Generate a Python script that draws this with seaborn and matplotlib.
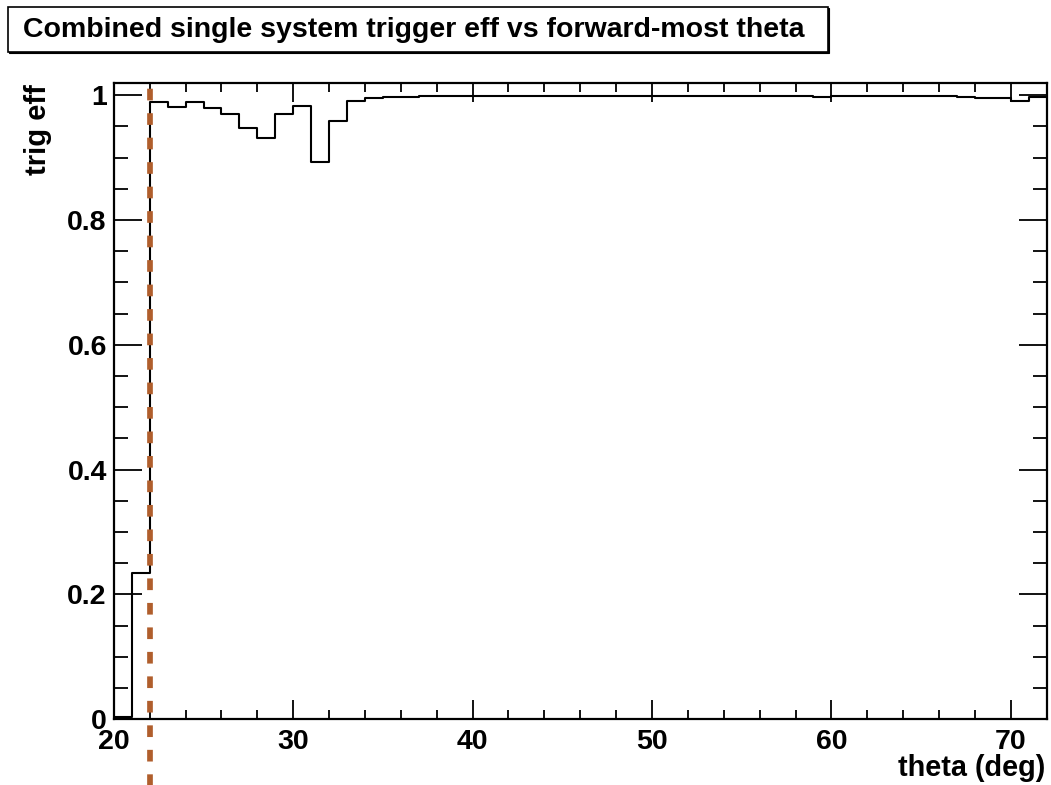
import numpy as np
import pandas as pd
import matplotlib
matplotlib.use("Agg")
import matplotlib.pyplot as plt
import seaborn as sns
from matplotlib.ticker import MultipleLocator
from matplotlib.patches import Rectangle

# Binning of the forward-most theta (degrees), 1 degree bins
theta_lo, theta_hi, theta_bin = 20, 72, 1
theta_centers = np.arange(theta_lo, theta_hi) + 0.5 * theta_bin

# Combined single system trigger efficiency in each theta bin
trig_eff = [
    0.004, 0.235, 0.989, 0.981, 0.989, 0.980, 0.970, 0.948, 0.931, 0.970,
    0.982, 0.893, 0.959, 0.990, 0.996, 0.997, 0.997, 0.998, 0.998, 0.999,
    0.999, 0.999, 0.999, 0.999, 0.998, 0.998, 0.998, 0.999, 0.999, 0.999,
    0.999, 0.999, 0.999, 0.999, 0.999, 0.999, 0.999, 0.999, 0.999, 0.997,
    0.999, 0.999, 0.999, 0.999, 0.999, 0.999, 0.999, 0.997, 0.995, 0.995,
    0.990, 0.997,
]

theta_cut = 22.0          # acceptance edge marked by the dashed line
cut_span = [-0.13, 1.027]  # vertical extent of the marker line

title_text = "Combined single system trigger eff vs forward-most theta"
xlabel_text = "theta (deg)"
ylabel_text = "trig eff"

df = pd.DataFrame({"theta": theta_centers, "eff": trig_eff})

sns.set_style("ticks")
plt.rcParams["font.family"] = ["Liberation Sans", "DejaVu Sans"]
plt.rcParams["font.weight"] = "bold"
plt.rcParams["text.color"] = "black"
plt.rcParams["axes.labelcolor"] = "black"

W, H = 1051, 785
fig = plt.figure(figsize=(W / 100, H / 100), dpi=100)
ax = fig.add_axes([113.8 / W, 1 - 719.3 / H, (1046.7 - 113.8) / W, (719.3 - 83.3) / H])

sns.histplot(data=df, x="theta", weights="eff", binwidth=theta_bin,
             binrange=(theta_lo, theta_hi), element="step", fill=False,
             color="black", linewidth=1.5, ax=ax)

ax.plot([theta_cut, theta_cut], cut_span, color="#b05e2c", linewidth=4.1,
        linestyle=(0, (2.05, 2.25)), dash_capstyle="butt", clip_on=False, zorder=5)

ax.set_xlim(theta_lo, theta_hi)
ax.set_ylim(0, 1.019)

ax.xaxis.set_major_locator(MultipleLocator(10))
ax.xaxis.set_minor_locator(MultipleLocator(2))
ax.yaxis.set_major_locator(MultipleLocator(0.2))
ax.yaxis.set_minor_locator(MultipleLocator(0.05))
ax.yaxis.set_major_formatter(plt.FuncFormatter(lambda v, p: f"{v:g}"))

ax.tick_params(axis="both", which="both", direction="in", top=True, right=True,
               width=1.3, colors="black", labelsize=20.5)
ax.tick_params(axis="x", which="major", length=13.7, pad=7)
ax.tick_params(axis="x", which="minor", length=6.6)
ax.tick_params(axis="y", which="major", length=20, pad=5)
ax.tick_params(axis="y", which="minor", length=10)
for lab in ax.get_xticklabels() + ax.get_yticklabels():
    lab.set_fontweight("bold")

for sp in ax.spines.values():
    sp.set_linewidth(1.6)
    sp.set_color("black")

ax.set_xlabel("")
ax.set_ylabel("")
fig.text(1045 / W, 1 - 768 / H, xlabel_text, ha="right", va="center",
         fontsize=20.8, fontweight="bold", color="black")
fig.text(38 / W, 1 - 84 / H, ylabel_text, ha="center", va="top", rotation=90,
         fontsize=21, fontweight="bold", color="black")

# Title pave: thin frame with a small drop shadow
fig.patches.append(Rectangle((9.2 / W, 1 - 52.9 / H), (828 - 8) / W, (51.7 - 7.3) / H,
                             transform=fig.transFigure, facecolor="black",
                             edgecolor="black", linewidth=0.8))
fig.patches.append(Rectangle((8 / W, 1 - 51.7 / H), (828 - 8) / W, (51.7 - 7.3) / H,
                             transform=fig.transFigure, facecolor="white",
                             edgecolor="black", linewidth=1.2))
fig.text(413.5 / W, 1 - 36.7 / H, title_text, ha="center", va="baseline",
         fontsize=20.5, fontweight="bold", color="black",
         family=["Liberation Sans Narrow", "Liberation Sans", "DejaVu Sans"])

fig.savefig("out.png", dpi=100)
